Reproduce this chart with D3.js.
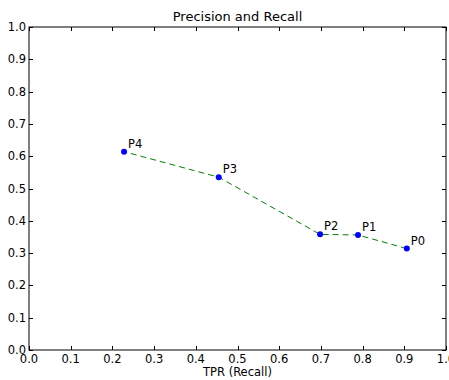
<!DOCTYPE html>
<html><head><meta charset="utf-8">
<script src="https://cdn.jsdelivr.net/npm/d3@7"></script>
<style>body{margin:0;background:#fff}svg{display:block}text{font-family:"DejaVu Sans",sans-serif}</style>
</head><body><svg id="c" width="449" height="380"></svg>
<script>
const labels = ["P0","P1","P2","P3","P4"];
const tpr = [0.906, 0.789, 0.698, 0.455, 0.228];
const precision = [0.314, 0.356, 0.358, 0.535, 0.614];
const xTicks = [0,0.1,0.2,0.3,0.4,0.5,0.6,0.7,0.8,0.9,1.0];
const yTicks = [0,0.1,0.2,0.3,0.4,0.5,0.6,0.7,0.8,0.9,1.0];

const svg = d3.select("#c");
const L=29, R=446, T=27, B=350;
const x = d3.scaleLinear().domain([0,1]).range([L,R]);
const y = d3.scaleLinear().domain([0,1]).range([B,T]);
const fs = 11.5;

svg.append("rect").attr("x",L).attr("y",T).attr("width",R-L).attr("height",B-T)
  .attr("fill","none").attr("stroke","#000").attr("stroke-width",1);

const tk = 4;
const g = svg.append("g").attr("stroke","#000").attr("stroke-width",1);
xTicks.forEach(v=>{
  const px = Math.round(x(v))+0.5;
  g.append("line").attr("x1",px).attr("x2",px).attr("y1",B).attr("y2",B-tk);
  g.append("line").attr("x1",px).attr("x2",px).attr("y1",T).attr("y2",T+tk);
});
yTicks.forEach(v=>{
  const py = Math.round(y(v))+0.5;
  g.append("line").attr("x1",L).attr("x2",L+tk).attr("y1",py).attr("y2",py);
  g.append("line").attr("x1",R).attr("x2",R-tk).attr("y1",py).attr("y2",py);
});

svg.append("g").selectAll("text").data(xTicks).join("text")
  .attr("x",d=>x(d)).attr("y",B+13).attr("text-anchor","middle")
  .attr("font-size",fs).attr("fill","#000").text(d=>d.toFixed(1));
svg.append("g").selectAll("text").data(yTicks).join("text")
  .attr("x",L-3).attr("y",d=>y(d)+4).attr("text-anchor","end")
  .attr("font-size",fs).attr("fill","#000").text(d=>d.toFixed(1));

svg.append("text").attr("x",(L+R)/2).attr("y",21).attr("text-anchor","middle")
  .attr("font-size",13).text("Precision and Recall");
svg.append("text").attr("x",(L+R)/2).attr("y",376).attr("text-anchor","middle")
  .attr("font-size",fs).text("TPR (Recall)");

const pts = labels.map((l,i)=>({l, x:tpr[i], y:precision[i]}));
svg.append("path").datum(pts)
  .attr("d", d3.line().x(d=>x(d.x)).y(d=>y(d.y)))
  .attr("fill","none").attr("stroke","#008000").attr("stroke-width",1)
  .attr("stroke-dasharray","6,4");
svg.append("g").selectAll("circle").data(pts).join("circle")
  .attr("cx",d=>x(d.x)).attr("cy",d=>y(d.y)).attr("r",3).attr("fill","#0000ff");
svg.append("g").selectAll("text").data(pts).join("text")
  .attr("x",d=>x(d.x)+4).attr("y",d=>y(d.y)-4)
  .attr("font-size",fs).text(d=>d.l);
</script></body></html>
